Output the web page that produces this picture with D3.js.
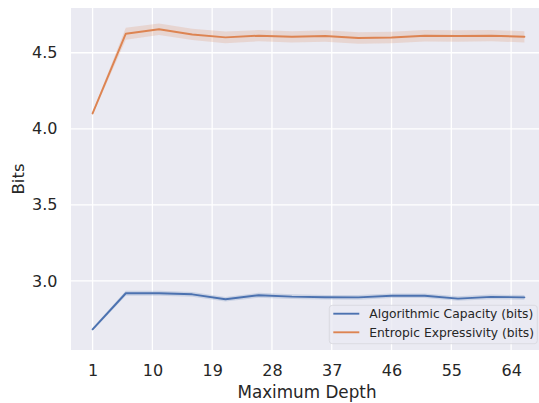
<!DOCTYPE html>
<html>
<head>
<meta charset="utf-8">
<script src="https://cdn.jsdelivr.net/npm/d3@7"></script>
<style>
  html, body { margin: 0; padding: 0; background: #fff; overflow: hidden; }
  svg { display: block; font-family: "DejaVu Sans", sans-serif; }
</style>
</head>
<body>
<svg id="chart" width="539" height="403"></svg>
<script>
// Maximum tree depth evaluated
const depths = [1, 6, 11, 16, 21, 26, 31, 36, 41, 46, 51, 56, 61, 66];

// Mean bits per depth, with the confidence band bounds
const capacityMean = [2.682, 2.919, 2.919, 2.912, 2.880, 2.906, 2.897, 2.893, 2.892, 2.903, 2.903, 2.884, 2.895, 2.892];
const capacityLow  = [2.672, 2.902, 2.902, 2.896, 2.865, 2.890, 2.882, 2.878, 2.877, 2.888, 2.888, 2.869, 2.880, 2.877];
const capacityHigh = [2.692, 2.936, 2.936, 2.928, 2.895, 2.922, 2.912, 2.908, 2.907, 2.918, 2.918, 2.899, 2.910, 2.907];

const entropyMean = [4.101, 4.625, 4.654, 4.620, 4.601, 4.612, 4.605, 4.610, 4.597, 4.600, 4.612, 4.610, 4.612, 4.605];
const entropyLow  = [4.091, 4.585, 4.616, 4.583, 4.563, 4.575, 4.568, 4.572, 4.559, 4.562, 4.574, 4.572, 4.575, 4.568];
const entropyHigh = [4.111, 4.665, 4.692, 4.657, 4.639, 4.649, 4.642, 4.648, 4.635, 4.638, 4.650, 4.648, 4.649, 4.642];

const xTicks = [1, 10, 19, 28, 37, 46, 55, 64];
const yTicks = [3.0, 3.5, 4.0, 4.5];

const seriesNames = ["Algorithmic Capacity (bits)", "Entropic Expressivity (bits)"];
const seriesColors = ["#4c72b0", "#dd8452"];

const svg = d3.select("#chart");
const margin = { left: 71, top: 8 };
const plotW = 475, plotH = 342;

const x = d3.scaleLinear().domain([-2.25, 69.25]).range([margin.left, margin.left + plotW]);
const y = d3.scaleLinear().domain([2.546, 4.794]).range([margin.top + plotH, margin.top]);

// Plot background
svg.append("rect")
  .attr("x", margin.left).attr("y", margin.top)
  .attr("width", plotW).attr("height", plotH)
  .attr("fill", "#eaeaf2");

svg.append("clipPath").attr("id", "plotclip")
  .append("rect").attr("x", margin.left).attr("y", margin.top)
  .attr("width", plotW).attr("height", plotH);

// Grid lines
const grid = svg.append("g").attr("clip-path", "url(#plotclip)");
grid.selectAll(".vx").data(xTicks).join("line")
  .attr("x1", d => x(d)).attr("x2", d => x(d))
  .attr("y1", margin.top).attr("y2", margin.top + plotH)
  .attr("stroke", "#fff").attr("stroke-width", 1.3);
grid.selectAll(".hy").data(yTicks).join("line")
  .attr("y1", d => y(d)).attr("y2", d => y(d))
  .attr("x1", margin.left).attr("x2", margin.left + plotW)
  .attr("stroke", "#fff").attr("stroke-width", 1.3);

// Series: confidence bands then mean lines
const series = [
  { mean: capacityMean, low: capacityLow, high: capacityHigh },
  { mean: entropyMean, low: entropyLow, high: entropyHigh }
];

const area = d3.area()
  .x((d, i) => x(depths[i]))
  .y0(d => y(d[0]))
  .y1(d => y(d[1]));
const line = d3.line()
  .x((d, i) => x(depths[i]))
  .y(d => y(d));

const marks = svg.append("g").attr("clip-path", "url(#plotclip)");
series.forEach((s, k) => {
  const band = s.low.map((v, i) => [v, s.high[i]]);
  marks.append("path").datum(band)
    .attr("d", area)
    .attr("fill", seriesColors[k]).attr("fill-opacity", 0.2);
});
series.forEach((s, k) => {
  marks.append("path").datum(s.mean)
    .attr("d", line)
    .attr("fill", "none")
    .attr("stroke", seriesColors[k])
    .attr("stroke-width", 1.9)
    .attr("stroke-linejoin", "round")
    .attr("stroke-linecap", "round");
});

// Axes
const xAxis = d3.axisBottom(x).tickValues(xTicks).tickSize(0).tickPadding(15).tickFormat(d3.format("d"));
const yAxis = d3.axisLeft(y).tickValues(yTicks).tickSize(0).tickPadding(13.5).tickFormat(d3.format(".1f"));

const gx = svg.append("g").attr("transform", `translate(0,${margin.top + plotH})`).call(xAxis);
const gy = svg.append("g").attr("transform", `translate(${margin.left},0)`).call(yAxis);
[gx, gy].forEach(g => {
  g.select(".domain").remove();
  g.selectAll("text").attr("fill", "#262626").attr("font-size", 16)
    .attr("font-family", "DejaVu Sans, sans-serif");
});

// Axis titles
svg.append("text")
  .attr("x", 307)
  .attr("y", 397.5)
  .attr("text-anchor", "middle")
  .attr("font-size", 16.8).attr("fill", "#262626")
  .text("Maximum Depth");
svg.append("text")
  .attr("transform", `translate(23.5,${margin.top + plotH / 2}) rotate(-90)`)
  .attr("text-anchor", "middle")
  .attr("font-size", 16.5).attr("fill", "#262626")
  .text("Bits");

// Legend
const lg = svg.append("g").attr("transform", "translate(329.3,305.3)");
lg.append("rect")
  .attr("width", 208).attr("height", 38.4).attr("rx", 3)
  .attr("fill", "#eaeaf2").attr("fill-opacity", 0.8)
  .attr("stroke", "#d6d6dc").attr("stroke-width", 0.8);
seriesNames.forEach((name, k) => {
  const cy = 8.4 + k * 18.6;
  lg.append("line")
    .attr("x1", 4).attr("x2", 30).attr("y1", cy).attr("y2", cy)
    .attr("stroke", seriesColors[k]).attr("stroke-width", 1.9);
  lg.append("text")
    .attr("x", 40).attr("y", cy + 4.4)
    .attr("font-size", 12.3).attr("fill", "#262626")
    .text(name);
});
</script>
</body>
</html>
